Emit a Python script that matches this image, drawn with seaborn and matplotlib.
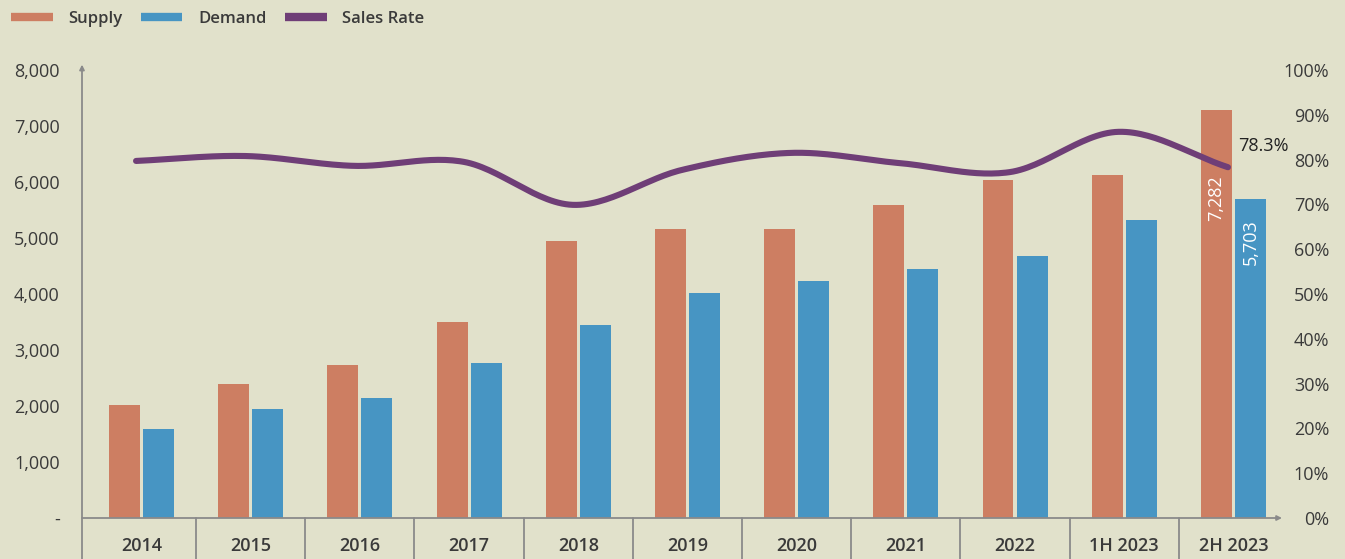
import numpy as np
import pandas as pd
import matplotlib
matplotlib.use("Agg")
import matplotlib.pyplot as plt
from matplotlib.lines import Line2D
import matplotlib.transforms as mtransforms
import seaborn as sns

categories = ["2014", "2015", "2016", "2017", "2018", "2019", "2020", "2021", "2022", "1H 2023", "2H 2023"]
supply = [2020, 2400, 2740, 3500, 4950, 5160, 5160, 5590, 6040, 6130, 7282]
demand = [1590, 1950, 2145, 2770, 3450, 4020, 4230, 4450, 4680, 5320, 5703]
sales_rate = [79.7, 80.8, 78.6, 79.5, 69.9, 77.7, 81.5, 79.2, 77.2, 86.2, 78.3]
left_ticks = [0, 1000, 2000, 3000, 4000, 5000, 6000, 7000, 8000]
right_ticks = [0, 10, 20, 30, 40, 50, 60, 70, 80, 90, 100]

BG = "#E1E1CB"
C_SUP = "#CD7E62"
C_DEM = "#4795C3"
C_LINE = "#6F3E77"
TXT = "#3A3A3A"
AX = "#8A8A8A"

sns.set_theme(style="white")
plt.rcParams["font.family"] = ["Open Sans", "DejaVu Sans"]

fig = plt.figure(figsize=(13.45, 5.59), dpi=100, facecolor=BG)
ax = fig.add_axes([82/1345, 41/559, 1200/1345, 448/559])
ax.set_facecolor(BG)

df = pd.DataFrame({
    "cat": categories * 2,
    "val": supply + demand,
    "series": ["Supply"] * len(categories) + ["Demand"] * len(categories),
})
sns.barplot(data=df, x="cat", y="val", hue="series", order=categories,
            hue_order=["Supply", "Demand"], palette=[C_SUP, C_DEM],
            width=0.623, gap=0.09, dodge=True, legend=False, ax=ax,
            saturation=1, linewidth=0)

ax.set_xlim(-0.545, 10.445)
ax.set_ylim(0, 8000)
ax.set_yticks(left_ticks)
ax.set_yticklabels(["-" if v == 0 else f"{v:,}" for v in left_ticks],
                   fontsize=13, color=TXT)
ax.tick_params(axis="y", length=0, pad=16)
ax.tick_params(axis="x", length=0, pad=14, labelsize=13, labelcolor=TXT)
for lab in ax.get_xticklabels():
    lab.set_fontweight("semibold")
ax.set_xlabel("")
ax.set_ylabel("")
for s in ax.spines.values():
    s.set_visible(False)

# axes lines with arrows
ax.annotate("", xy=(0, 1.012), xytext=(0, -0.095), xycoords="axes fraction",
            arrowprops=dict(arrowstyle="-|>", color=AX, lw=1.3, mutation_scale=7,
                            shrinkA=0, shrinkB=0), annotation_clip=False)
ax.annotate("", xy=(1.0, 0), xytext=(0, 0), xycoords="axes fraction",
            arrowprops=dict(arrowstyle="-|>", color=AX, lw=1.3, mutation_scale=7,
                            shrinkA=0, shrinkB=0), annotation_clip=False)
trans = mtransforms.blended_transform_factory(ax.transData, ax.transAxes)
for i in range(1, len(categories)):
    ax.plot([i - 0.5, i - 0.5], [0, -0.095], transform=trans, color=AX,
            lw=1.3, clip_on=False)

# value labels inside last bars
n = len(categories) - 1
ax.annotate(f"{supply[-1]:,}", xy=(n - 0.156, supply[-1]), xytext=(0, -47),
            textcoords="offset points", rotation=90, ha="center", va="top",
            color="white", fontsize=13)
ax.annotate(f"{demand[-1]:,}", xy=(n + 0.156, demand[-1]), xytext=(0, -15),
            textcoords="offset points", rotation=90, ha="center", va="top",
            color="white", fontsize=13)

# sales rate on secondary axis
ax2 = ax.twinx()
ax2.set_ylim(0, 100)
for s in ax2.spines.values():
    s.set_visible(False)

def catmull_rom(xs, ys, steps=30):
    xs = np.asarray(xs, float); ys = np.asarray(ys, float)
    px = np.concatenate([[2*xs[0]-xs[1]], xs, [2*xs[-1]-xs[-2]]])
    py = np.concatenate([[2*ys[0]-ys[1]], ys, [2*ys[-1]-ys[-2]]])
    ox, oy = [], []
    for i in range(1, len(px) - 2):
        t = np.linspace(0, 1, steps, endpoint=False)
        for P, out in ((px, ox), (py, oy)):
            p0, p1, p2, p3 = P[i-1], P[i], P[i+1], P[i+2]
            out.extend(0.5*((2*p1) + (-p0+p2)*t + (2*p0-5*p1+4*p2-p3)*t**2
                            + (-p0+3*p1-3*p2+p3)*t**3))
    ox.append(xs[-1]); oy.append(ys[-1])
    return np.array(ox), np.array(oy)

sx, sy = catmull_rom(np.arange(len(categories)), sales_rate)
sns.lineplot(x=sx - 0.05, y=sy, ax=ax2, color=C_LINE, lw=4.4, sort=False,
             solid_capstyle="round")
ax2.set_xlim(-0.545, 10.445)
ax2.set_yticks(right_ticks)
ax2.set_yticklabels([f"{v}%" for v in right_ticks], fontsize=13, color=TXT,
                    ha="right")
ax2.tick_params(axis="y", length=0, pad=34)
ax2.set_ylabel("")
ax2.annotate(f"{sales_rate[-1]}%", xy=(n - 0.05, sales_rate[-1]), xytext=(7, 15),
             textcoords="offset points", ha="left", va="center",
             color="#222222", fontsize=13)

handles = [Line2D([], [], color=C_SUP, lw=6, solid_capstyle="butt"),
           Line2D([], [], color=C_DEM, lw=6, solid_capstyle="butt"),
           Line2D([], [], color=C_LINE, lw=6, solid_capstyle="butt")]
fig.legend(handles, ["Supply", "Demand", "Sales Rate"], loc="upper left",
           bbox_to_anchor=(0.0, 1.0), ncol=3, frameon=False,
           prop={"size": 12, "weight": "semibold"}, labelcolor=TXT,
           handlelength=2.5, handletextpad=0.95, columnspacing=1.1,
           borderaxespad=0.25)

fig.savefig("out.png", dpi=100, facecolor=BG)
